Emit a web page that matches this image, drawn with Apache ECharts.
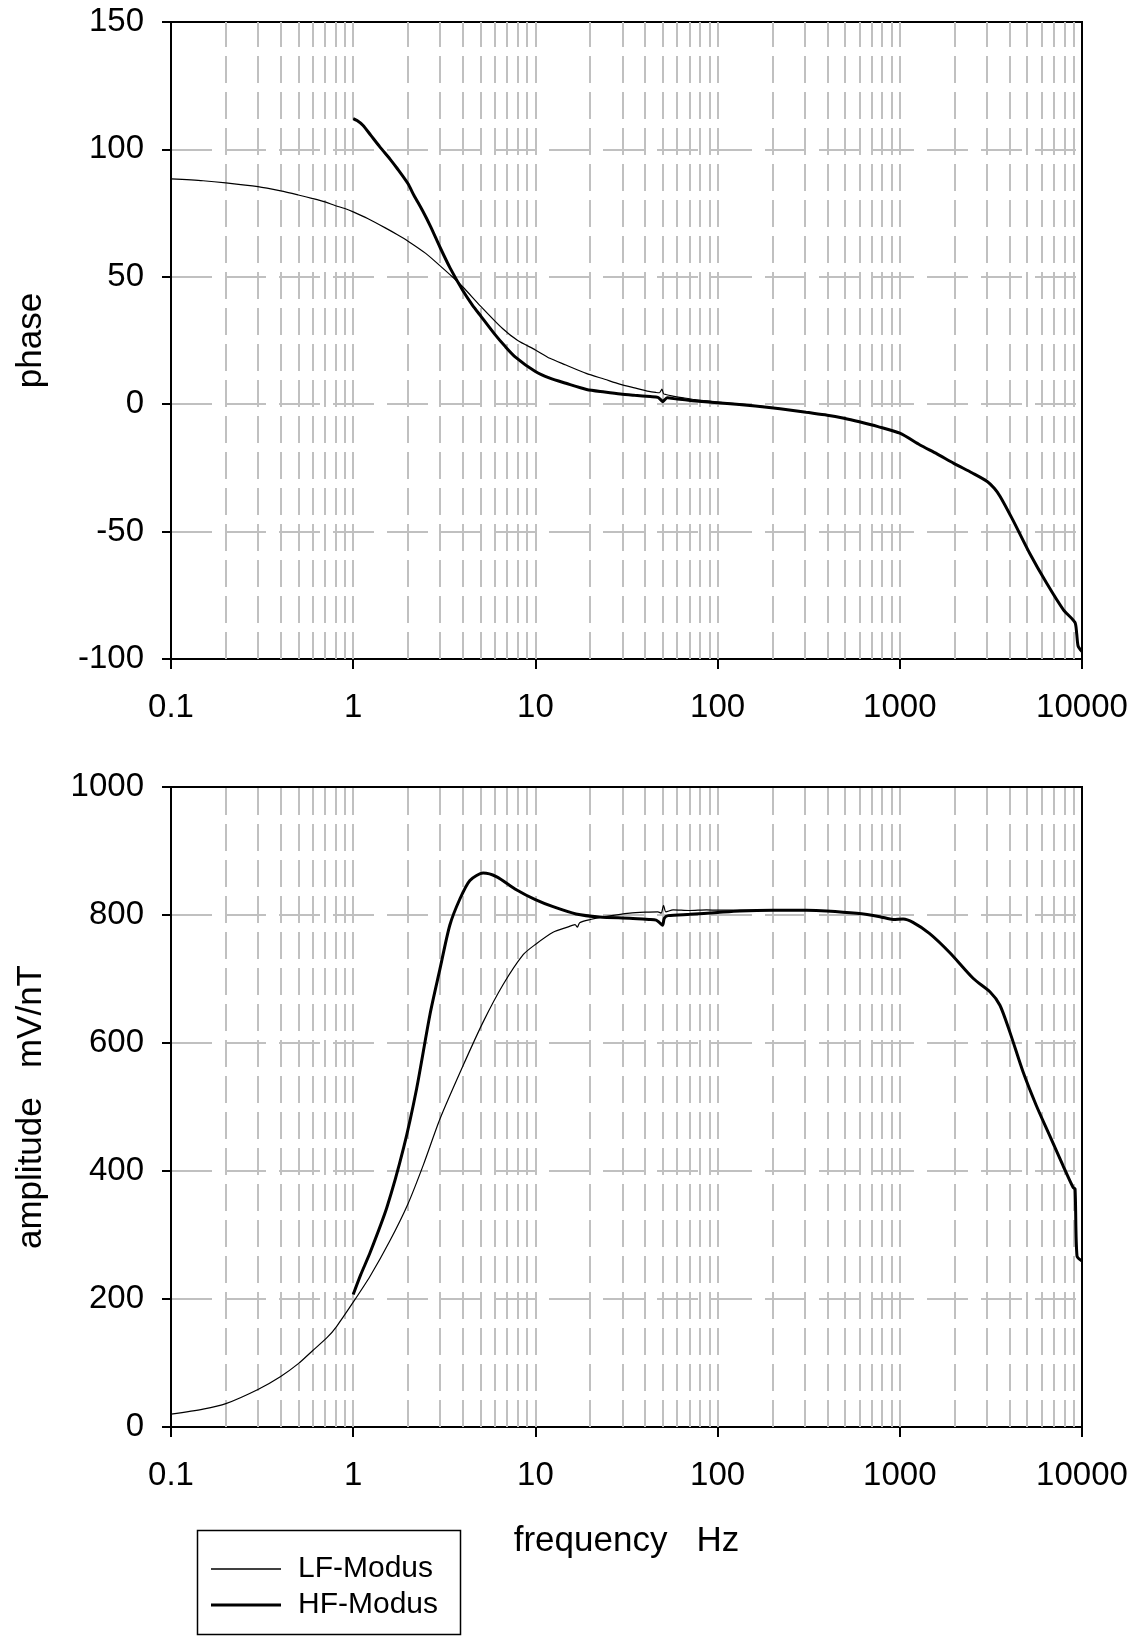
<!DOCTYPE html>
<html>
<head>
<meta charset="utf-8">
<script src="https://cdn.jsdelivr.net/npm/echarts@6/dist/echarts.min.js"></script>
<style>
html,body{margin:0;padding:0;background:#fff;}
#chart{width:1140px;height:1637px;}
</style>
</head>
<body>
<div id="chart"></div>
<script>
// ---------- data ----------
const seriesNames = ['LF-Modus', 'HF-Modus'];
const xTickLabels = ['0.1', '1', '10', '100', '1000', '10000'];
const gridDecades = [0.1, 1, 10, 100, 1000];
const gridSteps = [1, 2, 3, 4, 5, 6, 7, 8, 9];

// phase, LF-Modus
const lfPhaseF = [0.1, 0.15, 0.2, 0.3, 0.4, 0.5, 0.6, 0.7, 0.8, 0.9, 1, 1.2, 1.5, 1.75, 2, 2.5, 3, 3.5, 4, 5, 6.6, 8, 10, 12, 14.7, 19, 24, 29, 35, 42, 46, 48, 49.5, 50.5, 52, 56, 65, 75, 90, 100, 130, 160, 200, 300];
const lfPhase = [88.4, 87.7, 86.9, 85.4, 83.7, 82.1, 80.7, 79.4, 77.9, 76.8, 75.5, 72.9, 69.2, 66.5, 64, 59.2, 54.3, 50, 46, 38.5, 29.7, 25, 21.3, 18, 15.4, 12.1, 9.8, 7.9, 6.4, 5.0, 4.6, 4.5, 5.9, 4.1, 3.8, 3.3, 2.5, 1.8, 1.2, 0.8, 0.1, -0.5, -1.3, -3.1];

// phase, HF-Modus
const hfPhaseF = [1, 1.05, 1.13, 1.25, 1.4, 1.6, 1.74, 2, 2.15, 2.4, 2.66, 3, 3.4, 3.98, 4.5, 5.05, 5.93, 6.8, 7.74, 10, 12, 14.7, 19.1, 24, 29.3, 35, 42.7, 47, 49, 50, 51, 53, 60, 72.6, 100, 161, 220, 306, 400, 494, 600, 759, 1000, 1291, 1600, 1978, 2500, 3030, 3300, 3554, 4170, 5160, 6390, 7910, 9140, 9350, 9530, 10000];
const hfPhase = [112.1, 111.3, 109.5, 105.5, 101, 96, 92.6, 86.5, 82.1, 76, 69.7, 61.5, 53.5, 44.8, 39, 34.3, 27.8, 22.8, 18.6, 12.8, 10.2, 8.2, 5.8, 4.8, 4.0, 3.5, 3.0, 2.7, 1.6, 1.0, 1.6, 2.5, 2.0, 1.4, 0.6, -0.7, -1.8, -3.2, -4.3, -5.5, -6.9, -8.8, -11.4, -16, -19.5, -23.2, -27, -30.4, -33, -36.2, -45.4, -58.5, -70.2, -80.7, -85.6, -90, -95, -97];

// amplitude, LF-Modus
const lfAmpF = [0.1, 0.15, 0.2, 0.3, 0.4, 0.5, 0.6, 0.72, 0.81, 1, 1.24, 1.59, 2, 2.43, 3, 4, 5.17, 6.64, 8.57, 10, 12.5, 15, 16.5, 17, 17.5, 20, 23.5, 33, 42, 47, 49, 50.5, 52, 57, 70, 87, 100, 130, 200, 300];
const lfAmp = [20, 28, 36.5, 58.6, 79, 99, 119.5, 140, 157, 195, 236, 291, 349, 410, 482, 564, 633, 691, 738, 754, 773, 781, 785, 781, 788, 793, 797, 803, 804.6, 805, 803, 815, 805, 808, 807, 808, 807.5, 807.5, 807.5, 807.3];

// amplitude, HF-Modus
const hfAmpF = [1, 1.1, 1.24, 1.53, 1.89, 2.23, 2.64, 2.99, 3.39, 3.85, 4.37, 5.17, 6.1, 7.86, 10, 12.5, 16.7, 22.5, 32.9, 42, 46, 48, 49.9, 51, 53.6, 70.5, 100, 132.6, 202, 307, 396, 579, 777, 920, 1043, 1181, 1459, 1877, 2533, 3123, 3544, 4019, 4751, 5620, 6650, 7869, 8932, 9160, 9390, 10000];
const hfAmp = [207, 238, 273, 343, 436, 529, 645, 715, 784, 825, 854, 865.6, 860, 839.5, 824, 813, 801.7, 797, 795, 793, 792, 788, 784, 795, 799, 801, 804, 806.3, 807.3, 807.3, 806.3, 802.6, 797.4, 793, 793.7, 788.5, 771, 741.5, 700.8, 680, 659, 617, 554.6, 502, 455.4, 408.4, 374.4, 372, 267, 259.5];

// ---------- build ----------
function zip(a, b) { return a.map((v, i) => [v, b[i]]); }
const gridXValues = [];
gridDecades.forEach(d => gridSteps.forEach(k => {
  const v = +(d * k).toPrecision(6);
  if (v > 0.1) gridXValues.push(v);
}));

const FONT = 'Liberation Sans, Arial, sans-serif';
const gray = '#c0c0c0';

function xAxisCfg(gridIndex, withName) {
  return {
    type: 'log', logBase: 10, gridIndex: gridIndex, min: 0.1, max: 10000,
    axisLine: { show: true, onZero: false, lineStyle: { color: '#000', width: 2 } },
    axisTick: { show: true, length: 10, lineStyle: { color: '#000', width: 2 } },
    axisLabel: {
      margin: 32, fontSize: 33, color: '#000', fontFamily: FONT,
      formatter: v => xTickLabels[Math.round(Math.log10(v)) + 1]
    },
    splitLine: { show: false },
    minorTick: { show: false },
    name: withName ? 'frequency   Hz' : '',
    nameLocation: 'middle', nameGap: 97,
    nameTextStyle: { fontSize: 35, color: '#000', fontFamily: FONT }
  };
}
function yAxisCfg(gridIndex, min, max, interval, name) {
  return {
    type: 'value', gridIndex: gridIndex, min: min, max: max, interval: interval,
    axisLine: { show: true, onZero: false, lineStyle: { color: '#000', width: 2 } },
    axisTick: { show: true, length: 9, lineStyle: { color: '#000', width: 2 } },
    axisLabel: { margin: 27, fontSize: 33, color: '#000', fontFamily: FONT, formatter: v => String(v) },
    splitLine: { show: true, showMinLine: false, showMaxLine: false, lineStyle: { color: gray, width: 2, type: [41, 13] } },
    name: name, nameLocation: 'middle', nameRotate: 90, nameGap: 122,
    nameTextStyle: { fontSize: 35, color: '#000', fontFamily: FONT }
  };
}
function gridLineSeries(idx) {
  return {
    type: 'line', name: 'vgrid' + idx, xAxisIndex: idx, yAxisIndex: idx,
    data: [], silent: true, z: 1,
    markLine: {
      silent: true, symbol: ['none', 'none'], animation: false,
      label: { show: false },
      lineStyle: { color: gray, width: 2, type: [27, 9] },
      emphasis: { disabled: true },
      data: gridXValues.map(v => ({ xAxis: v }))
    }
  };
}
function dataSeries(name, idx, data, width) {
  return {
    type: 'line', name: name, xAxisIndex: idx, yAxisIndex: idx,
    data: data, symbol: 'none', showSymbol: false, smooth: 0.25,
    z: 5, lineStyle: { color: '#000', width: width }, itemStyle: { color: '#000' }
  };
}
function legendCfg(name, top, thickness) {
  return {
    data: [name], orient: 'vertical', left: 211, top: top,
    icon: 'rect', itemWidth: 70, itemHeight: thickness, padding: 0,
    textStyle: { fontSize: 30, lineHeight: 30, color: '#000', fontFamily: FONT, padding: [0, 0, 0, 12] },
    selectedMode: false
  };
}

const chart = echarts.init(document.getElementById('chart'), null, { renderer: 'canvas' });
chart.setOption({
  animation: false,
  backgroundColor: '#fff',
  textStyle: { fontFamily: FONT },
  grid: [
    { left: 171, right: 58, top: 22, height: 637, show: true, borderColor: '#000', borderWidth: 2, backgroundColor: 'transparent' },
    { left: 171, right: 58, top: 787, height: 640, show: true, borderColor: '#000', borderWidth: 2, backgroundColor: 'transparent' }
  ],
  xAxis: [xAxisCfg(0, false), xAxisCfg(1, true)],
  yAxis: [yAxisCfg(0, -100, 150, 50, 'phase'), yAxisCfg(1, 0, 1000, 200, 'amplitude   mV/nT')],
  legend: [legendCfg(seriesNames[0], 1554, 1.3), legendCfg(seriesNames[1], 1590, 3)],
  graphic: [{
    type: 'rect', left: 195, top: 1528, z: 0,
    shape: { width: 263, height: 104 },
    style: { fill: 'none', stroke: '#000', lineWidth: 1.5 }
  }],
  series: [
    gridLineSeries(0),
    gridLineSeries(1),
    dataSeries(seriesNames[0], 0, zip(lfPhaseF, lfPhase), 1.2),
    dataSeries(seriesNames[1], 0, zip(hfPhaseF, hfPhase), 3),
    dataSeries(seriesNames[0], 1, zip(lfAmpF, lfAmp), 1.2),
    dataSeries(seriesNames[1], 1, zip(hfAmpF, hfAmp), 3)
  ]
});
</script>
</body>
</html>
